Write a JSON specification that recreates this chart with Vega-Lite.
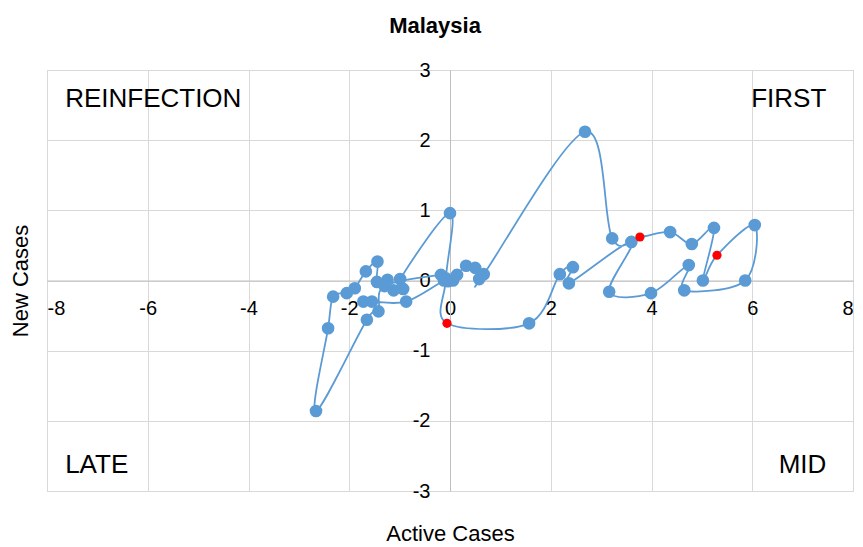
{
  "$schema": "https://vega.github.io/schema/vega-lite/v6.json",
  "autosize": "none",
  "width": 806,
  "height": 421,
  "padding": {"left": 47, "top": 70, "right": 10, "bottom": 56},
  "background": "white",
  "config": {
    "font": "Liberation Sans",
    "view": {"stroke": "#d9d9d9", "strokeWidth": 1}
  },
  "title": {
    "text": "Malaysia",
    "fontSize": 22,
    "fontWeight": "bold",
    "font": "Liberation Sans",
    "color": "#000000",
    "anchor": "middle",
    "dx": -15,
    "offset": 22
  },
  "datasets": {
    "path": [
      {"i": 1, "x": -1.72, "y": -0.30, "kind": "normal"},
      {"i": 2, "x": -1.55, "y": -0.30, "kind": "normal"},
      {"i": 3, "x": -0.87, "y": -0.30, "kind": "normal"},
      {"i": 4, "x": -0.12, "y": 0.00, "kind": "normal"},
      {"i": 5, "x": -0.04, "y": -0.01, "kind": "normal"},
      {"i": 6, "x": 0.06, "y": 0.00, "kind": "normal"},
      {"i": 7, "x": 0.14, "y": 0.08, "kind": "normal"},
      {"i": 8, "x": 0.32, "y": 0.21, "kind": "normal"},
      {"i": 9, "x": 0.50, "y": 0.18, "kind": "normal"},
      {"i": 10, "x": 0.58, "y": 0.02, "kind": "normal"},
      {"i": 11, "x": 0.67, "y": 0.09, "kind": "normal"},
      {"i": 12, "x": 2.68, "y": 2.12, "kind": "normal"},
      {"i": 13, "x": 3.22, "y": 0.60, "kind": "normal"},
      {"i": 14, "x": 3.77, "y": 0.62, "kind": "red"},
      {"i": 15, "x": 4.37, "y": 0.69, "kind": "normal"},
      {"i": 16, "x": 4.80, "y": 0.52, "kind": "normal"},
      {"i": 17, "x": 5.24, "y": 0.75, "kind": "normal"},
      {"i": 18, "x": 5.02, "y": 0.00, "kind": "normal"},
      {"i": 19, "x": 5.30, "y": 0.36, "kind": "red"},
      {"i": 20, "x": 6.05, "y": 0.79, "kind": "normal"},
      {"i": 21, "x": 5.86, "y": 0.00, "kind": "normal"},
      {"i": 22, "x": 4.65, "y": -0.14, "kind": "normal"},
      {"i": 23, "x": 4.74, "y": 0.22, "kind": "normal"},
      {"i": 24, "x": 3.99, "y": -0.18, "kind": "normal"},
      {"i": 25, "x": 3.16, "y": -0.16, "kind": "normal"},
      {"i": 26, "x": 3.60, "y": 0.55, "kind": "normal"},
      {"i": 27, "x": 2.36, "y": -0.04, "kind": "normal"},
      {"i": 28, "x": 2.44, "y": 0.19, "kind": "normal"},
      {"i": 29, "x": 2.18, "y": 0.09, "kind": "normal"},
      {"i": 30, "x": 1.57, "y": -0.61, "kind": "normal"},
      {"i": 31, "x": -0.06, "y": -0.61, "kind": "red"},
      {"i": 32, "x": -0.08, "y": 0.03, "kind": "normal"},
      {"i": 33, "x": 0.00, "y": 0.96, "kind": "normal"},
      {"i": 34, "x": -0.99, "y": 0.02, "kind": "normal"},
      {"i": 35, "x": -0.93, "y": -0.12, "kind": "normal"},
      {"i": 36, "x": -1.12, "y": -0.14, "kind": "normal"},
      {"i": 37, "x": -1.24, "y": 0.01, "kind": "normal"},
      {"i": 38, "x": -1.45, "y": -0.02, "kind": "normal"},
      {"i": 39, "x": -1.44, "y": 0.27, "kind": "normal"},
      {"i": 40, "x": -1.67, "y": 0.13, "kind": "normal"},
      {"i": 41, "x": -1.89, "y": -0.11, "kind": "normal"},
      {"i": 42, "x": -2.05, "y": -0.18, "kind": "normal"},
      {"i": 43, "x": -2.32, "y": -0.23, "kind": "normal"},
      {"i": 44, "x": -2.42, "y": -0.68, "kind": "normal"},
      {"i": 45, "x": -2.66, "y": -1.86, "kind": "normal"},
      {"i": 46, "x": -1.65, "y": -0.56, "kind": "normal"},
      {"i": 47, "x": -1.42, "y": -0.44, "kind": "normal"},
      {"i": 48, "x": -1.30, "y": -0.08, "kind": "normal"},
      {"i": 49, "x": -0.18, "y": 0.08, "kind": "normal"}
    ],
    "quadrants": [
      {"label": "REINFECTION", "x": -7.64, "y": 2.58, "side": "left"},
      {"label": "FIRST", "x": 7.47, "y": 2.58, "side": "right"},
      {"label": "LATE", "x": -7.64, "y": -2.63, "side": "left"},
      {"label": "MID", "x": 7.47, "y": -2.63, "side": "right"}
    ]
  },
  "layer": [
    {
      "data": {"name": "path"},
      "mark": {"type": "line", "interpolate": "cardinal", "color": "#5b9bd5", "strokeWidth": 1.8},
      "encoding": {
        "x": {
          "field": "x", "type": "quantitative",
          "scale": {"domain": [-8, 8], "nice": false, "zero": false},
          "axis": {
            "orient": "bottom",
            "offset": -210.5,
            "values": [-8, -6, -4, -2, 0, 2, 4, 6, 8],
            "labelExpr": "'' + datum.value",
            "grid": true, "gridColor": "#d9d9d9", "gridWidth": 1,
            "domainColor": "#bfbfbf", "domainWidth": 1,
            "ticks": false,
            "labelFontSize": 20, "labelColor": "#000000", "labelPadding": 18,
            "labelFont": "Liberation Sans",
            "title": "Active Cases",
            "titleFontSize": 22, "titleFontWeight": "normal", "titleColor": "#000000",
            "titleFont": "Liberation Sans",
            "titleY": 253, "titleBaseline": "middle"
          }
        },
        "y": {
          "field": "y", "type": "quantitative",
          "scale": {"domain": [-3, 3], "nice": false, "zero": false},
          "axis": {
            "orient": "left",
            "offset": -403,
            "values": [-3, -2, -1, 0, 1, 2, 3],
            "labelExpr": "'' + datum.value",
            "grid": true, "gridColor": "#d9d9d9", "gridWidth": 1,
            "domainColor": "#bfbfbf", "domainWidth": 1,
            "ticks": false,
            "labelFontSize": 20, "labelColor": "#000000", "labelPadding": 20,
            "labelFont": "Liberation Sans",
            "title": "New Cases",
            "titleFontSize": 22, "titleFontWeight": "normal", "titleColor": "#000000",
            "titleFont": "Liberation Sans",
            "titleX": -430, "titleBaseline": "middle"
          }
        },
        "order": {"field": "i", "type": "quantitative"}
      }
    },
    {
      "data": {"name": "path"},
      "mark": {"type": "circle", "opacity": 1},
      "encoding": {
        "x": {"field": "x", "type": "quantitative"},
        "y": {"field": "y", "type": "quantitative"},
        "color": {
          "field": "kind", "type": "nominal",
          "scale": {"domain": ["normal", "red"], "range": ["#5b9bd5", "#ff0000"]},
          "legend": null
        },
        "size": {
          "field": "kind", "type": "nominal",
          "scale": {"domain": ["normal", "red"], "range": [160, 85]},
          "legend": null
        },
        "order": {"field": "kind", "type": "nominal"}
      }
    },
    {
      "data": {"name": "quadrants"},
      "transform": [{"filter": "datum.side === 'left'"}],
      "mark": {"type": "text", "align": "left", "baseline": "middle", "fontSize": 26, "font": "Liberation Sans", "color": "#000000"},
      "encoding": {
        "x": {"field": "x", "type": "quantitative"},
        "y": {"field": "y", "type": "quantitative"},
        "text": {"field": "label"}
      }
    },
    {
      "data": {"name": "quadrants"},
      "transform": [{"filter": "datum.side === 'right'"}],
      "mark": {"type": "text", "align": "right", "baseline": "middle", "fontSize": 26, "font": "Liberation Sans", "color": "#000000"},
      "encoding": {
        "x": {"field": "x", "type": "quantitative"},
        "y": {"field": "y", "type": "quantitative"},
        "text": {"field": "label"}
      }
    }
  ]
}
